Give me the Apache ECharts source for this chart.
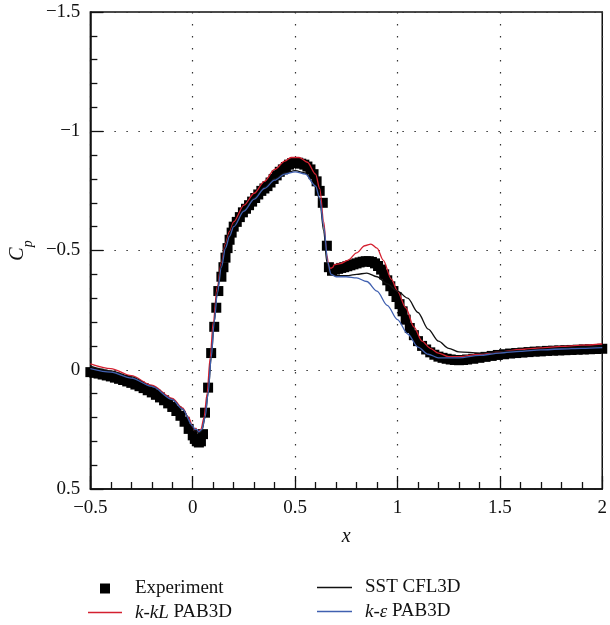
<!DOCTYPE html>
<html>
<head>
<meta charset="utf-8">
<script src="https://cdn.jsdelivr.net/npm/echarts@6/dist/echarts.min.js"></script>
<style>html,body{margin:0;padding:0;background:#fff}#c{width:610px;height:625px}</style>
</head>
<body>
<div id="c"></div>
<script>
// ---- data ----
const xTicks = [-0.5, 0, 0.5, 1, 1.5, 2];
const xTickLabels = ['\u22120.5', '0', '0.5', '1', '1.5', '2'];
const yTicks = [-1.5, -1, -0.5, 0, 0.5];
const yTickLabels = ['\u22121.5', '\u22121', '\u22120.5', '0', '0.5'];

const expX = [-0.5,-0.48,-0.46,-0.44,-0.42,-0.4,-0.38,-0.36,-0.34,-0.32,-0.3,-0.28,-0.26,-0.24,-0.22,-0.2,-0.18,-0.16,-0.14,-0.12,-0.1,-0.08,-0.06,-0.04,-0.02,0,0.01,0.02,0.03,0.04,0.05,
  0.06,0.075,0.09,0.105,0.115,0.125,0.14,0.15,0.16,0.17,0.18,0.19,0.2,0.215,0.23,0.245,0.26,0.275,0.29,0.305,0.32,0.335,0.35,0.365,0.38,0.395,0.41,0.425,0.44,0.455,0.47,0.485,0.5,0.515,0.53,0.545,0.56,0.575,0.59,0.605,0.62,0.635,0.655,0.665,
  0.68,0.695,0.71,0.725,0.74,0.755,0.77,0.785,0.8,0.815,0.83,0.845,0.86,0.875,0.89,0.905,0.92,0.935,0.95,0.965,0.98,0.995,1.01,1.025,1.04,1.06,1.08,1.1,1.12,1.14,1.16,1.18,1.2,1.22,1.24,1.26,1.28,1.3,1.32,1.34,
  1.37,1.4,1.43,1.46,1.49,1.52,1.55,1.58,1.61,1.64,1.67,1.7,1.73,1.76,1.79,1.82,1.85,1.88,1.91,1.94,1.97,2.0];
const expCp = [0.01,0.013,0.016,0.02,0.024,0.028,0.033,0.038,0.043,0.049,0.055,0.062,0.069,0.077,0.086,0.095,0.105,0.116,0.128,0.141,0.156,0.173,0.193,0.218,0.248,0.275,0.29,0.3,0.305,0.3,0.27,
  0.18,0.075,-0.07,-0.18,-0.26,-0.33,-0.39,-0.43,-0.47,-0.51,-0.545,-0.575,-0.6,-0.62,-0.64,-0.66,-0.675,-0.69,-0.705,-0.72,-0.735,-0.75,-0.76,-0.77,-0.785,-0.8,-0.815,-0.83,-0.84,-0.85,-0.86,-0.866,-0.87,-0.868,-0.864,-0.86,-0.852,-0.84,-0.82,-0.79,-0.75,-0.7,-0.52,-0.43,
  -0.415,-0.42,-0.423,-0.427,-0.43,-0.434,-0.438,-0.442,-0.446,-0.45,-0.453,-0.455,-0.455,-0.452,-0.446,-0.435,-0.42,-0.4,-0.375,-0.35,-0.33,-0.305,-0.275,-0.245,-0.21,-0.175,-0.145,-0.12,-0.1,-0.085,-0.073,-0.063,-0.055,-0.05,-0.046,-0.043,-0.041,-0.04,-0.041,-0.043,
  -0.046,-0.05,-0.054,-0.058,-0.062,-0.065,-0.068,-0.07,-0.072,-0.074,-0.076,-0.077,-0.079,-0.08,-0.081,-0.082,-0.083,-0.084,-0.085,-0.086,-0.087,-0.088];

const kklX = [-0.5,-0.4,-0.3,-0.2,-0.1,-0.05,-0.02,0,0.01,0.015,0.025,0.04,0.055,0.07,0.085,0.1,0.12,0.14,0.16,0.18,0.2,0.25,0.3,0.35,0.4,0.45,0.48,0.52,0.56,0.6,0.62,0.64,0.655,0.665,0.675,0.685,0.69,0.72,0.76,0.8,0.84,0.87,0.9,0.93,0.97,1.0,1.04,1.08,1.12,1.16,1.2,1.25,1.3,1.4,1.5,1.6,1.7,1.8,1.9,2.0];
const kklCp = [-0.025,-0.005,0.025,0.065,0.12,0.16,0.2,0.24,0.255,0.245,0.26,0.25,0.2,0.1,-0.05,-0.2,-0.35,-0.45,-0.53,-0.58,-0.62,-0.69,-0.74,-0.79,-0.84,-0.875,-0.89,-0.89,-0.87,-0.82,-0.76,-0.62,-0.48,-0.43,-0.425,-0.43,-0.44,-0.445,-0.46,-0.49,-0.52,-0.527,-0.51,-0.46,-0.38,-0.33,-0.26,-0.18,-0.12,-0.09,-0.07,-0.055,-0.055,-0.065,-0.075,-0.085,-0.092,-0.098,-0.103,-0.108];

const sstX = [-0.5,-0.4,-0.3,-0.2,-0.1,-0.05,0,0.01,0.02,0.03,0.045,0.06,0.075,0.09,0.105,0.12,0.14,0.16,0.18,0.2,0.25,0.3,0.35,0.4,0.45,0.5,0.55,0.6,0.62,0.64,0.655,0.67,0.69,0.72,0.76,0.8,0.85,0.9,0.95,1.0,1.05,1.1,1.15,1.2,1.25,1.3,1.4,1.5,1.6,1.7,1.8,1.9,2.0];
const sstCp = [-0.015,0.005,0.03,0.07,0.125,0.165,0.24,0.255,0.255,0.265,0.255,0.2,0.1,-0.05,-0.2,-0.33,-0.44,-0.52,-0.57,-0.61,-0.67,-0.72,-0.765,-0.8,-0.825,-0.835,-0.825,-0.77,-0.71,-0.58,-0.45,-0.405,-0.395,-0.395,-0.395,-0.4,-0.405,-0.39,-0.36,-0.33,-0.3,-0.24,-0.17,-0.12,-0.09,-0.075,-0.07,-0.075,-0.08,-0.085,-0.09,-0.095,-0.1];

const keX = [-0.5,-0.4,-0.3,-0.2,-0.1,-0.05,0,0.01,0.02,0.03,0.045,0.06,0.075,0.09,0.105,0.12,0.14,0.16,0.18,0.2,0.25,0.3,0.35,0.4,0.45,0.5,0.55,0.6,0.62,0.64,0.66,0.675,0.7,0.75,0.8,0.85,0.9,0.95,1.0,1.05,1.1,1.15,1.2,1.3,1.4,1.5,1.6,1.7,1.8,1.9,2.0];
const keCp = [-0.005,0.01,0.035,0.07,0.125,0.165,0.235,0.25,0.25,0.26,0.25,0.2,0.1,-0.05,-0.2,-0.32,-0.43,-0.51,-0.56,-0.6,-0.665,-0.715,-0.76,-0.795,-0.82,-0.83,-0.82,-0.77,-0.72,-0.6,-0.45,-0.4,-0.39,-0.39,-0.385,-0.37,-0.33,-0.27,-0.21,-0.15,-0.095,-0.065,-0.05,-0.05,-0.06,-0.07,-0.077,-0.083,-0.087,-0.09,-0.093];

const seriesNames = ['Experiment', 'k-kL PAB3D', 'SST CFL3D', 'k-\u03b5 PAB3D'];
const legendRich = {'k-kL PAB3D': '{i|k-kL} PAB3D', 'k-\u03b5 PAB3D': '{i|k-\u03b5} PAB3D'};

// ---- chart ----
const pairs = (xs, ys) => xs.map((x, i) => [x, ys[i]]);
const FONT = '"Liberation Serif", "DejaVu Serif", serif';
const chart = echarts.init(document.getElementById('c'), null, {renderer: 'canvas'});

const legendText = {fontFamily: FONT, fontSize: 19, color: '#111',
  rich: {i: {fontFamily: FONT, fontSize: 19, fontStyle: 'italic', color: '#111'}}};
function mkLegend(name, left, top, w, h, pad) {
  return {
    data: [{name: name, icon: 'rect'}], left: left, top: top, itemWidth: w, itemHeight: h, padding: 0,
    selectedMode: false,
    formatter: n => legendRich[n] || n,
    textStyle: Object.assign({}, legendText, {padding: [0, 0, 0, pad]})
  };
}

const option = {
  animation: false,
  backgroundColor: '#fff',
  grid: {left: 86, right: 2, top: 12, bottom: 136, show: true, borderColor: '#111', borderWidth: 1.5, backgroundColor: 'transparent'},
  legend: [
    mkLegend(seriesNames[0], 100, 579, 10, 10, 20),
    mkLegend(seriesNames[1], 88, 603, 34, 1.3, 8),
    mkLegend(seriesNames[2], 317, 578, 35, 1.3, 8),
    mkLegend(seriesNames[3], 317, 602, 35, 1.3, 8)
  ],
  xAxis: {
    type: 'value', min: xTicks[0], max: xTicks[xTicks.length - 1], interval: 0.5,
    name: 'x', nameLocation: 'middle', nameGap: 38,
    nameTextStyle: {fontFamily: FONT, fontSize: 20, fontStyle: 'italic', color: '#111'},
    axisLine: {show: true, onZero: false, lineStyle: {color: '#111', width: 1.5}},
    axisTick: {show: true, inside: true, length: 13, lineStyle: {color: '#111', width: 1.3}},
    minorTick: {show: true, splitNumber: 5, length: 7, lineStyle: {color: '#111', width: 1.3}},
    axisLabel: {fontFamily: FONT, fontSize: 19, color: '#111', margin: 10,
      formatter: v => { const i = xTicks.findIndex(t => Math.abs(t - v) < 1e-9); return i >= 0 ? xTickLabels[i] : ''; }},
    splitLine: {show: true, lineStyle: {color: '#333', width: 1.2, type: [1.5, 10.5]}}
  },
  yAxis: {
    type: 'value', inverse: true, min: yTicks[0], max: yTicks[yTicks.length - 1], interval: 0.5,
    name: 'C{s|p}', nameLocation: 'middle', nameGap: 54, nameRotate: 90,
    nameTextStyle: {fontFamily: FONT, fontSize: 20, fontStyle: 'italic', color: '#111',
      rich: {s: {fontFamily: FONT, fontSize: 14, fontStyle: 'italic', color: '#111', lineHeight: 34, verticalAlign: 'bottom'}}},
    axisLine: {show: true, onZero: false, lineStyle: {color: '#111', width: 1.5}},
    axisTick: {show: true, inside: true, length: 13, lineStyle: {color: '#111', width: 1.3}},
    minorTick: {show: true, splitNumber: 5, length: 7, lineStyle: {color: '#111', width: 1.3}},
    axisLabel: {fontFamily: FONT, fontSize: 19, color: '#111', margin: 10,
      formatter: v => { const i = yTicks.findIndex(t => Math.abs(t - v) < 1e-9); return i >= 0 ? yTickLabels[i] : ''; }},
    splitLine: {show: true, lineStyle: {color: '#333', width: 1.2, type: [1.5, 10.5]}}
  },
  series: [
    {name: seriesNames[0], type: 'scatter', symbol: 'rect', symbolSize: 10,
      itemStyle: {color: '#000', opacity: 1}, data: pairs(expX, expCp), z: 2},
    {name: seriesNames[1], type: 'line', symbol: 'none', smooth: 0.3, smoothMonotone: 'x',
      lineStyle: {color: '#d42030', width: 1.3}, itemStyle: {color: '#d42030'}, data: pairs(kklX, kklCp), z: 3},
    {name: seriesNames[2], type: 'line', symbol: 'none', smooth: 0.3, smoothMonotone: 'x',
      lineStyle: {color: '#111', width: 1.3}, itemStyle: {color: '#111'}, data: pairs(sstX, sstCp), z: 3},
    {name: seriesNames[3], type: 'line', symbol: 'none', smooth: 0.3, smoothMonotone: 'x',
      lineStyle: {color: '#4060b0', width: 1.3}, itemStyle: {color: '#4060b0'}, data: pairs(keX, keCp), z: 4}
  ]
};
chart.setOption(option);
</script>
</body>
</html>
